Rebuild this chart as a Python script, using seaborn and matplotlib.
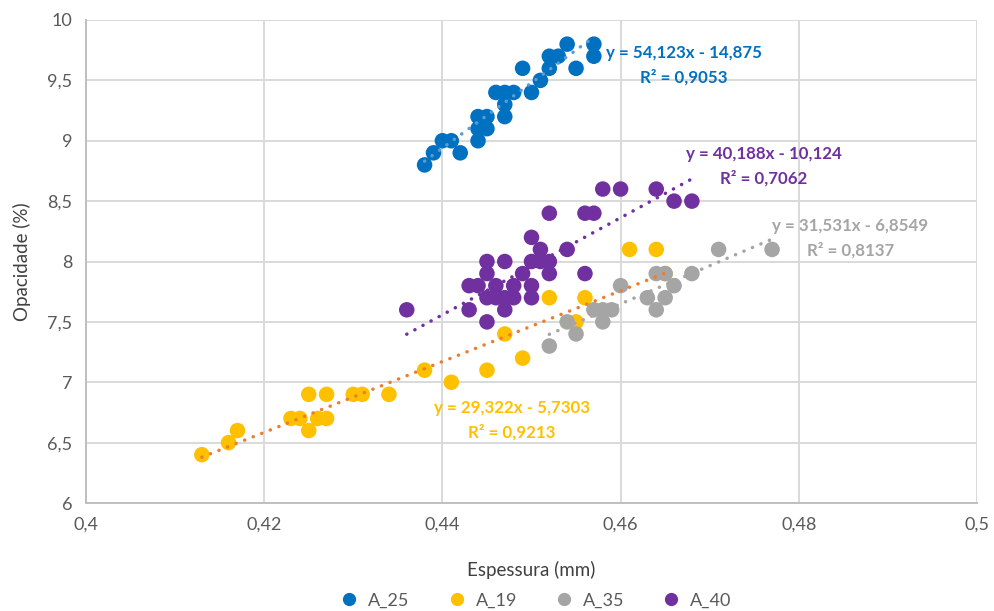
import numpy as np
import pandas as pd
import matplotlib
matplotlib.use("Agg")
import matplotlib.pyplot as plt
import seaborn as sns

# Thickness (mm) and opacity (%) per sample group
a25_x = [0.438, 0.439, 0.440, 0.441, 0.442, 0.444, 0.444, 0.444, 0.445, 0.445,
         0.446, 0.447, 0.447, 0.447, 0.448, 0.449, 0.450, 0.451, 0.452, 0.452,
         0.453, 0.454, 0.455, 0.457, 0.457]
a25_y = [8.8, 8.9, 9.0, 9.0, 8.9, 9.0, 9.1, 9.2, 9.1, 9.2,
         9.4, 9.4, 9.3, 9.2, 9.4, 9.6, 9.4, 9.5, 9.6, 9.7,
         9.7, 9.8, 9.6, 9.8, 9.7]

a19_x = [0.413, 0.416, 0.417, 0.423, 0.424, 0.425, 0.425, 0.426, 0.427, 0.427,
         0.430, 0.431, 0.434, 0.438, 0.441, 0.445, 0.447, 0.449, 0.452, 0.455,
         0.456, 0.461, 0.464, 0.465]
a19_y = [6.4, 6.5, 6.6, 6.7, 6.7, 6.9, 6.6, 6.7, 6.9, 6.7,
         6.9, 6.9, 6.9, 7.1, 7.0, 7.1, 7.4, 7.2, 7.7, 7.5,
         7.7, 8.1, 8.1, 7.9]

a35_x = [0.452, 0.454, 0.455, 0.457, 0.458, 0.459, 0.458, 0.460, 0.463, 0.464,
         0.465, 0.464, 0.465, 0.466, 0.468, 0.471, 0.477]
a35_y = [7.3, 7.5, 7.4, 7.6, 7.6, 7.6, 7.5, 7.8, 7.7, 7.6,
         7.7, 7.9, 7.9, 7.8, 7.9, 8.1, 8.1]

a40_x = [0.436, 0.443, 0.444, 0.443, 0.445, 0.445, 0.445, 0.445, 0.446, 0.446,
         0.447, 0.447, 0.447, 0.448, 0.448, 0.449, 0.450, 0.450, 0.450, 0.450,
         0.451, 0.451, 0.452, 0.452, 0.452, 0.454, 0.456, 0.456, 0.457, 0.458,
         0.460, 0.464, 0.466, 0.468]
a40_y = [7.6, 7.8, 7.8, 7.6, 8.0, 7.9, 7.7, 7.5, 7.8, 7.7,
         8.0, 7.7, 7.6, 7.8, 7.7, 7.9, 7.8, 7.7, 8.2, 8.0,
         8.1, 8.0, 8.0, 7.9, 8.4, 8.1, 7.9, 8.4, 8.4, 8.6,
         8.6, 8.6, 8.5, 8.5]

series = ["A_25", "A_19", "A_35", "A_40"]
marker_colors = ["#0070C0", "#FFC000", "#A5A5A5", "#7030A0"]
trend_colors = ["#5B9BD5", "#ED7D31", "#A5A5A5", "#7030A0"]
label_colors = ["#0070C0", "#FFC000", "#A5A5A5", "#7030A0"]

# Linear trendline coefficients (slope, intercept) and R²
slopes = [54.123, 29.322, 31.531, 40.188]
intercepts = [-14.875, -5.7303, -6.8549, -10.124]
r2_values = [0.9053, 0.9213, 0.8137, 0.7062]
eq_texts = ["y = 54,123x - 14,875", "y = 29,322x - 5,7303",
            "y = 31,531x - 6,8549", "y = 40,188x - 10,124"]
r2_texts = ["R² = 0,9053", "R² = 0,9213", "R² = 0,8137", "R² = 0,7062"]
label_pos = [(0.4671, 9.627), (0.4478, 6.687), (0.4858, 8.195), (0.4761, 8.791)]

x_ticks = [0.40, 0.42, 0.44, 0.46, 0.48, 0.50]
x_tick_labels = ["0,4", "0,42", "0,44", "0,46", "0,48", "0,5"]
y_ticks = [6, 6.5, 7, 7.5, 8, 8.5, 9, 9.5, 10]
y_tick_labels = ["6", "6,5", "7", "7,5", "8", "8,5", "9", "9,5", "10"]

xs = [a25_x, a19_x, a35_x, a40_x]
ys = [a25_y, a19_y, a35_y, a40_y]
df = pd.concat([pd.DataFrame({"Espessura": x, "Opacidade": y, "Amostra": s})
                for x, y, s in zip(xs, ys, series)], ignore_index=True)

sns.set_theme(style="white")
plt.rcParams["font.family"] = ["Lato", "DejaVu Sans"]

fig = plt.figure(figsize=(9.95, 6.11), dpi=100)
ax = fig.add_axes([86 / 995, 1 - 503 / 611, (977 - 86) / 995, (503 - 20) / 611])

sns.scatterplot(data=df, x="Espessura", y="Opacidade", hue="Amostra",
                hue_order=series, palette=marker_colors, s=125, linewidth=0,
                ax=ax, zorder=3)

for x, m, b, c in zip(xs, slopes, intercepts, trend_colors):
    xl = np.array([min(x), max(x)])
    ax.plot(xl, m * xl + b, linestyle=(0, (0.05, 2.6)), dash_capstyle="round",
            color=c, linewidth=2.5, zorder=4)

for (lx, ly), eq, r2, c in zip(label_pos, eq_texts, r2_texts, label_colors):
    ax.text(lx, ly, eq + "\n" + r2, ha="center", va="center", color=c,
            fontsize=12.2, fontweight="bold", linespacing=1.6, zorder=2.5)

ax.set_xlim(0.40, 0.50)
ax.set_ylim(6, 10)
ax.set_xticks(x_ticks)
ax.set_xticklabels(x_tick_labels)
ax.set_yticks(y_ticks)
ax.set_yticklabels(y_tick_labels)
ax.tick_params(axis="both", labelsize=13, labelcolor="#595959", length=0, pad=10)
ax.grid(True, color="#D9D9D9", linewidth=1.4)
ax.set_axisbelow(True)
for side in ["top", "right"]:
    ax.spines[side].set_visible(False)
for side in ["left", "bottom"]:
    ax.spines[side].set_color("#BFBFBF")
    ax.spines[side].set_linewidth(1.4)

ax.set_xlabel("Espessura (mm)", fontsize=13.5, color="#404040", labelpad=20)
ax.set_ylabel("Opacidade (%)", fontsize=13.5, color="#404040")
ax.yaxis.set_label_coords(-0.062, 0.5)

sns.move_legend(ax, "upper center", bbox_to_anchor=(0.5, -0.152), ncol=4,
                frameon=False, title=None, fontsize=13, handletextpad=0.05,
                columnspacing=1.6, markerscale=0.85)
for t in ax.get_legend().get_texts():
    t.set_color("#595959")

fig.savefig("out.png", dpi=100)
